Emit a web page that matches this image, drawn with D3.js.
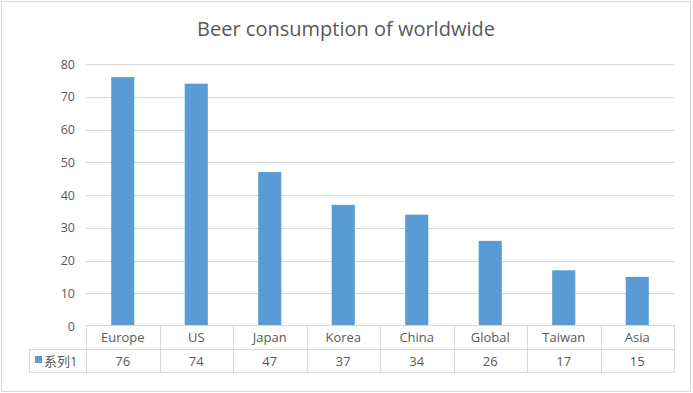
<!DOCTYPE html>
<html>
<head>
<meta charset="utf-8">
<script src="https://cdn.jsdelivr.net/npm/d3@7"></script>
<style>
  body { margin: 0; background: #fff; }
  text { font-family: "Open Sans", "Noto Sans", "Noto Sans CJK SC", sans-serif; fill: #595959; }
</style>
</head>
<body>
<div id="chart-area"></div>
<script>
const categories = ["Europe", "US", "Japan", "Korea", "China", "Global", "Taiwan", "Asia"]
const values = [76, 74, 47, 37, 34, 26, 17, 15]
const yTicks = [0, 10, 20, 30, 40, 50, 60, 70, 80]
const seriesName = "系列1"
const title = "Beer consumption of worldwide"

const W = 693, H = 393
const PLOT = { LEFT: 86, RIGHT: 674, TOP: 64, BOTTOM: 326 }
const TABLE = { LEFT: 29, ROW1: 349, BOTTOM: 372 }

const svg = d3.select("#chart-area").append("svg")
  .attr("width", W)
  .attr("height", H)

svg.append("rect")
  .attr("x", 1.5).attr("y", 1.5)
  .attr("width", W - 4).attr("height", H - 3)
  .attr("fill", "#fff")
  .attr("stroke", "#d9d9d9")

svg.append("text")
  .attr("x", 346).attr("y", 36)
  .attr("text-anchor", "middle")
  .attr("font-size", "20px")
  .text(title)

const x = d3.scaleBand()
  .domain(categories)
  .range([PLOT.LEFT, PLOT.RIGHT])
  .paddingInner(0.686)
  .paddingOuter(0.343)

const xCol = d3.scaleBand()
  .domain(categories)
  .range([PLOT.LEFT, PLOT.RIGHT])

const y = d3.scaleLinear()
  .domain([0, 80])
  .range([PLOT.BOTTOM, PLOT.TOP])

// gridlines
svg.append("g")
  .selectAll("line")
  .data(yTicks.filter(d => d > 0))
  .enter().append("line")
  .attr("x1", PLOT.LEFT).attr("x2", PLOT.RIGHT)
  .attr("y1", d => Math.round(y(d)) + 0.5)
  .attr("y2", d => Math.round(y(d)) + 0.5)
  .attr("stroke", "#d9d9d9")

// y labels
const yAxisCall = d3.axisLeft(y).tickValues(yTicks).tickSize(0).tickPadding(11)
const yAxis = svg.append("g")
  .attr("transform", `translate(${PLOT.LEFT}, 0)`)
  .call(yAxisCall)
yAxis.select(".domain").remove()
yAxis.selectAll("text")
  .attr("font-size", "12.5px")
  .attr("fill", "#595959")
  .style("font-family", "'Open Sans', sans-serif")

// bars
svg.append("g")
  .selectAll("rect")
  .data(values)
  .enter().append("rect")
  .attr("x", (d, i) => x(categories[i]))
  .attr("width", x.bandwidth())
  .attr("y", d => y(d))
  .attr("height", d => y(0) - y(d))
  .attr("fill", "#5b9bd5")

// data table
const tbl = svg.append("g")
  .attr("stroke", "#d9d9d9")
  .attr("fill", "none")

tbl.append("line")
  .attr("x1", PLOT.LEFT).attr("x2", PLOT.RIGHT)
  .attr("y1", PLOT.BOTTOM - 0.5).attr("y2", PLOT.BOTTOM - 0.5)
tbl.append("line")
  .attr("x1", TABLE.LEFT).attr("x2", PLOT.RIGHT)
  .attr("y1", TABLE.ROW1 + 0.5).attr("y2", TABLE.ROW1 + 0.5)
tbl.append("line")
  .attr("x1", TABLE.LEFT).attr("x2", PLOT.RIGHT)
  .attr("y1", TABLE.BOTTOM + 0.5).attr("y2", TABLE.BOTTOM + 0.5)
tbl.append("line")
  .attr("x1", TABLE.LEFT + 0.5).attr("x2", TABLE.LEFT + 0.5)
  .attr("y1", TABLE.ROW1).attr("y2", TABLE.BOTTOM)

const edges = categories.map(c => xCol(c)).concat([PLOT.RIGHT])
tbl.selectAll(".vline")
  .data(edges)
  .enter().append("line")
  .attr("class", "vline")
  .attr("x1", d => Math.round(d) + 0.5).attr("x2", d => Math.round(d) + 0.5)
  .attr("y1", PLOT.BOTTOM - 1).attr("y2", TABLE.BOTTOM)

svg.append("g")
  .selectAll("text")
  .data(categories)
  .enter().append("text")
  .attr("x", d => xCol(d) + xCol.bandwidth() / 2)
  .attr("y", 342)
  .attr("text-anchor", "middle")
  .attr("font-size", "13px")
  .text(d => d)

svg.append("g")
  .selectAll("text")
  .data(values)
  .enter().append("text")
  .attr("x", (d, i) => xCol(categories[i]) + xCol.bandwidth() / 2)
  .attr("y", 366)
  .attr("text-anchor", "middle")
  .attr("font-size", "13px")
  .text(d => d)

// legend key
svg.append("rect")
  .attr("x", 35).attr("y", 356)
  .attr("width", 7).attr("height", 7)
  .attr("fill", "#5b9bd5")
svg.append("text")
  .attr("x", 44).attr("y", 366)
  .attr("font-size", "13px")
  .text(seriesName)
</script>
</body>
</html>
